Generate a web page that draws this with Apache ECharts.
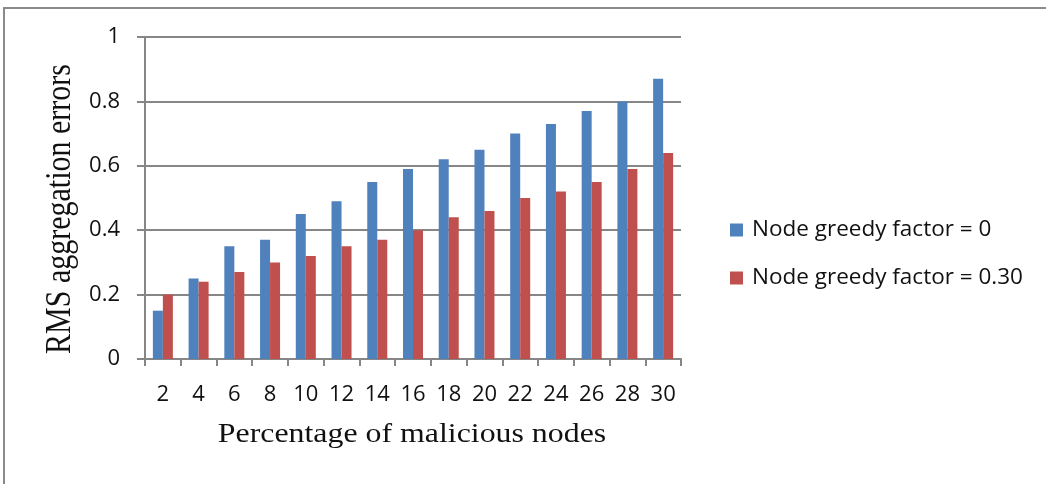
<!DOCTYPE html>
<html><head><meta charset="utf-8">
<script src="https://cdn.jsdelivr.net/npm/echarts@6/dist/echarts.min.js"></script>
<style>html,body{margin:0;padding:0;background:#fff}#c{width:1046px;height:484px}</style>
</head><body><div id="c"></div>
<script>
var categories = ['2','4','6','8','10','12','14','16','18','20','22','24','26','28','30'];
var seriesNames = ['Node greedy factor = 0', 'Node greedy factor = 0.30'];
var greedy0 = [0.15,0.25,0.35,0.37,0.45,0.49,0.55,0.59,0.62,0.65,0.70,0.73,0.77,0.80,0.87];
var greedy30 = [0.20,0.24,0.27,0.30,0.32,0.35,0.37,0.40,0.44,0.46,0.50,0.52,0.55,0.59,0.64];
var xAxisTitle = 'Percentage of malicious nodes';
var yAxisTitle = 'RMS aggregation errors';

var chart = echarts.init(document.getElementById('c'), null, {renderer:'canvas'});
var sans = '"Open Sans", "Liberation Sans", sans-serif';
var serif = '"Liberation Serif", "Times New Roman", serif';
chart.setOption({
  animation:false,
  graphic:[
    {type:'line', shape:{x1:4, y1:8, x2:1046, y2:8}, style:{stroke:'#8a8a8a', lineWidth:2}},
    {type:'line', shape:{x1:4, y1:7, x2:4, y2:484}, style:{stroke:'#8a8a8a', lineWidth:2}},
    {type:'text', x:412, y:435, scaleX:1.18,
     style:{text:xAxisTitle, fontFamily:serif, fontSize:27, fill:'#111', align:'center', verticalAlign:'middle'}},
    {type:'text', x:61, y:209, rotation:Math.PI/2, scaleY:1.18,
     style:{text:yAxisTitle, fontFamily:serif, fontSize:30, fill:'#111', align:'center', verticalAlign:'middle'}}
  ],
  grid:{left:145, right:365, top:37, bottom:125, containLabel:false},
  legend:{
    orient:'vertical', left:725, top:213, itemWidth:13, itemHeight:13, itemGap:24,
    icon:'rect',
    textStyle:{fontFamily:sans, fontSize:22.5, lineHeight:24, color:'#111', padding:[0,0,0,4]},
    data:seriesNames
  },
  xAxis:{
    type:'category', data:categories,
    axisLine:{lineStyle:{color:'#868686', width:2}},
    axisTick:{show:true, alignWithLabel:false, length:7, lineStyle:{color:'#868686', width:2}},
    axisLabel:{margin:25, fontFamily:sans, fontSize:22, color:'#111'}
  },
  yAxis:{
    type:'value', min:0, max:1, interval:0.2,
    axisLine:{show:true, lineStyle:{color:'#868686', width:2}},
    axisTick:{show:true, length:8, lineStyle:{color:'#868686', width:2}},
    splitLine:{lineStyle:{color:'#868686', width:2}},
    axisLabel:{margin:25, fontFamily:sans, fontSize:22, color:'#111',
      formatter:function(v){return String(Math.round(v*10)/10);}}
  },
  series:[
    {name:seriesNames[0], type:'bar', data:greedy0, barGap:'0%', barCategoryGap:'44%',
     itemStyle:{color:'#4F81BD'}},
    {name:seriesNames[1], type:'bar', data:greedy30, barGap:'0%', barCategoryGap:'44%',
     itemStyle:{color:'#C0504D'}}
  ]
});
</script></body></html>
